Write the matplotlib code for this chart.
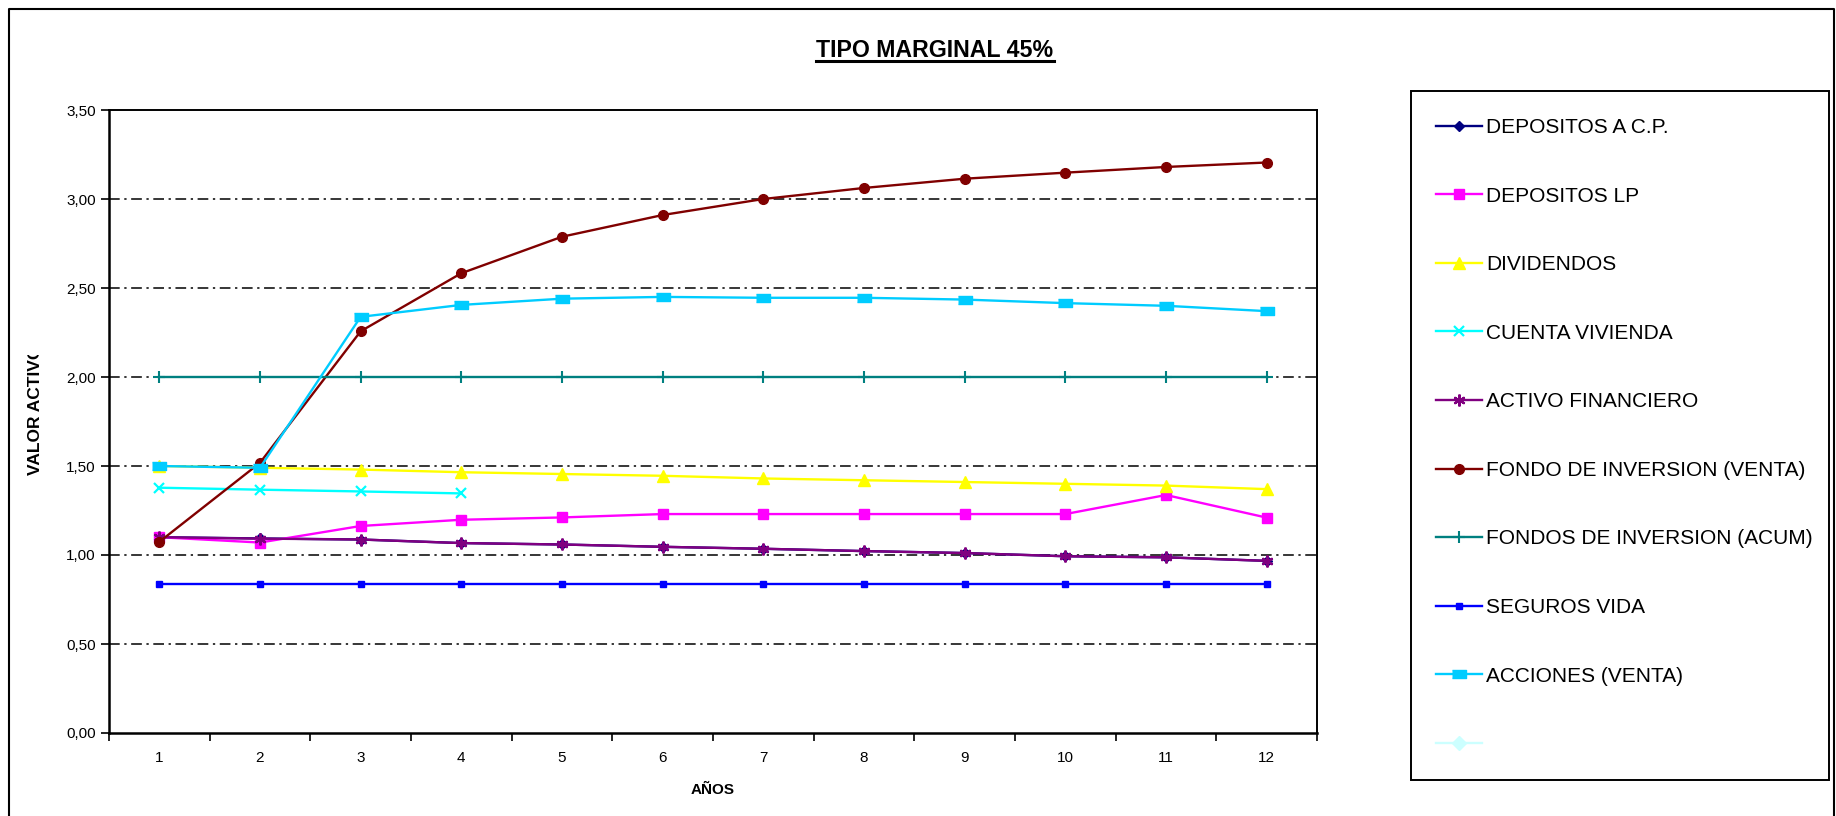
import matplotlib
matplotlib.use("Agg")
import matplotlib.pyplot as plt
import numpy as np
from matplotlib.lines import Line2D
from matplotlib.transforms import Bbox

plt.rcParams['font.family'] = ['Liberation Sans', 'DejaVu Sans']

# datos
anios = [1, 2, 3, 4, 5, 6, 7, 8, 9, 10, 11, 12]
depositos_cp = [1.100, 1.093, 1.087, 1.067, 1.059, 1.046, 1.035, 1.022, 1.011, 0.993, 0.987, 0.967]
depositos_lp = [1.100, 1.070, 1.163, 1.198, 1.211, 1.230, 1.230, 1.230, 1.230, 1.230, 1.337, 1.210]
dividendos = [1.500, 1.490, 1.480, 1.465, 1.455, 1.445, 1.430, 1.420, 1.410, 1.400, 1.390, 1.370]
cuenta_vivienda = [1.378, 1.367, 1.357, 1.346]
activo_financiero = [1.100, 1.092, 1.087, 1.067, 1.059, 1.046, 1.035, 1.022, 1.011, 0.993, 0.987, 0.967]
fondo_venta = [1.074, 1.518, 2.257, 2.583, 2.788, 2.910, 3.000, 3.062, 3.114, 3.148, 3.180, 3.205]
fondos_acum = [2.00, 2.00, 2.00, 2.00, 2.00, 2.00, 2.00, 2.00, 2.00, 2.00, 2.00, 2.00]
seguros_vida = [0.835, 0.835, 0.835, 0.835, 0.835, 0.835, 0.835, 0.835, 0.835, 0.835, 0.835, 0.835]
acciones_venta = [1.500, 1.490, 2.338, 2.405, 2.440, 2.450, 2.445, 2.445, 2.435, 2.415, 2.400, 2.370]
serie_vacia = []

y_ticks = [0.0, 0.5, 1.0, 1.5, 2.0, 2.5, 3.0, 3.5]
titulo = "TIPO MARGINAL 45%"

W, H = 1836, 816
fig = plt.figure(figsize=(W / 100, H / 100), dpi=100)
ax = fig.add_axes([109 / W, 1 - 733 / H, (1317 - 109) / W, (733 - 110) / H])

rect = [(-1, -0.55), (1, -0.55), (1, 0.55), (-1, 0.55)]
series = [
    ("DEPOSITOS A C.P.", depositos_cp, dict(color='#000080', marker='D', ms=5.5)),
    ("DEPOSITOS LP", depositos_lp, dict(color='#FF00FF', marker='s', ms=7.5)),
    ("DIVIDENDOS", dividendos, dict(color='#FFFF00', marker='^', ms=8.5)),
    ("CUENTA VIVIENDA", cuenta_vivienda, dict(color='#00FFFF', marker='x', ms=7.5, mew=1.6)),
    ("ACTIVO FINANCIERO", activo_financiero, dict(color='#800080', marker=(6, 2, 0), ms=8.5, mew=1.6)),
    ("FONDO DE INVERSION (VENTA)", fondo_venta, dict(color='#800000', marker='o', ms=7)),
    ("FONDOS DE INVERSION (ACUM)", fondos_acum, dict(color='#008080', marker='+', ms=9, mew=1.5)),
    ("SEGUROS VIDA", seguros_vida, dict(color='#0000FF', marker='s', ms=4.5)),
    ("ACCIONES (VENTA)", acciones_venta, dict(color='#00CCFF', marker=rect, ms=10)),
    ("", serie_vacia, dict(color='#CCFFFF', marker='D', ms=7)),
]

handles, labels = [], []
for nombre, valores, estilo in series:
    linea, = ax.plot(anios[:len(valores)], valores, lw=1.7, zorder=3, **estilo)
    handles.append(linea)
    labels.append(nombre)

ax.set_xlim(0.5, 12.5)
ax.set_ylim(0, 3.5)
ax.set_yticks(y_ticks)
ax.set_yticklabels([f"{v:.2f}".replace('.', ',') for v in y_ticks], fontsize=11)
ax.set_xticks(anios)
ax.set_xticklabels([str(a) for a in anios], fontsize=11)
ax.set_xticks(np.arange(0.5, len(anios) + 1, 1), minor=True)
ax.tick_params(axis='x', which='major', length=0, pad=13)
ax.tick_params(axis='x', which='minor', length=6, width=1.2, direction='out')
ax.tick_params(axis='y', which='major', length=6, width=1.2, direction='out', pad=3.5)

for v in y_ticks[1:-1]:
    ax.axhline(v, color='black', lw=1.1, dashes=(7, 3, 1.5, 3), zorder=1)

for s in ax.spines.values():
    s.set_color('black')
    s.set_linewidth(1.4)
ax.spines['left'].set_linewidth(1.8)
ax.spines['bottom'].set_linewidth(1.8)

ax.set_xlabel("AÑOS", fontsize=11, fontweight='bold', va='center')
ax.xaxis.set_label_coords(0.5, (733 - 790) / (733 - 110))

# etiqueta del eje Y, recortada como en el original
ylab = fig.text(35 / W, 1 - 475 / H, "VALOR ACTIVO", rotation=90, ha='center', va='bottom',
                fontsize=12.5, fontweight='bold')
ylab.set_clip_on(True)
ylab.set_clip_box(Bbox.from_extents(0, 0, W, H - 355))

# titulo subrayado
t = fig.text(935 / W, 1 - 57.3 / H, titulo, ha='center', va='baseline',
             fontsize=16.7, fontweight='bold')

leg = fig.legend(handles, labels, loc='upper left', bbox_to_anchor=(1436 / W, 1 - 118 / H),
                 frameon=False, fontsize=15, borderpad=0, borderaxespad=0,
                 handlelength=2.2, handletextpad=0.2, labelspacing=2.38)

# marco de la leyenda
fig.add_artist(plt.Rectangle((1411 / W, 1 - 780 / H), (1829 - 1411) / W, (780 - 91) / H,
                             transform=fig.transFigure, fill=False, ec='black', lw=1.4))
# marco exterior del grafico
fig.add_artist(Line2D([9 / W, 9 / W, 1834 / W, 1834 / W], [0, 1 - 9 / H, 1 - 9 / H, 0],
                      transform=fig.transFigure, color='black', lw=1.5))

fig.canvas.draw()
bb = t.get_window_extent(fig.canvas.get_renderer())
fig.add_artist(Line2D([bb.x0 / W, bb.x1 / W], [1 - 61 / H, 1 - 61 / H],
                      transform=fig.transFigure, color='black', lw=2.2))

fig.savefig("out.png", dpi=100)
